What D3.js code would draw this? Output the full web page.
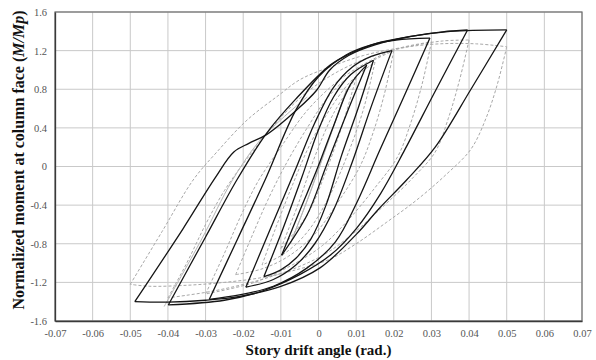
<!DOCTYPE html>
<html>
<head>
<meta charset="utf-8">
<script src="https://cdn.jsdelivr.net/npm/d3@7"></script>
<style>
  body { margin: 0; background: #fff; }
  svg { display: block; font-family: "Liberation Serif", "Times New Roman", serif; }
</style>
</head>
<body>
<figure id="hyst" style="margin:0"></figure>
<script>
// axis ticks
const xTicks = [-0.07, -0.06, -0.05, -0.04, -0.03, -0.02, -0.01, 0, 0.01, 0.02, 0.03, 0.04, 0.05, 0.06, 0.07];
const xTickLabels = ["-0.07", "-0.06", "-0.05", "-0.04", "-0.03", "-0.02", "-0.01", "0", "0.01", "0.02", "0.03", "0.04", "0.05", "0.06", "0.07"];
const yTicks = [-1.6, -1.2, -0.8, -0.4, 0, 0.4, 0.8, 1.2, 1.6];
const yTickLabels = ["-1.6", "-1.2", "-0.8", "-0.4", "0", "0.4", "0.8", "1.2", "1.6"];

// test (solid black) - reloading branches, negative peak -> positive peak
const testUp01 = [[-0.0098, -0.92], [-0.005, -0.46], [-0.0005, -0.04], [0.004, 0.42], [0.0085, 0.85], [0.0128, 1.05]];
const testUp015 = [[-0.0145, -1.14], [-0.0095, -0.65], [-0.0045, -0.12], [0.0, 0.38], [0.004, 0.72], [0.0085, 0.95], [0.0146, 1.10]];
const testUp02 = [[-0.0193, -1.25], [-0.0125, -0.62], [-0.0062, -0.04], [-0.001, 0.45], [0.004, 0.82], [0.009, 1.03], [0.014, 1.14], [0.0195, 1.20]];
const testUp03 = [[-0.029, -1.375], [-0.0215, -0.75], [-0.0142, -0.14], [-0.006, 0.586], [0.0, 0.93], [0.0073, 1.155], [0.014, 1.26], [0.0206, 1.31], [0.0296, 1.33]];
const testUp04 = [[-0.0399, -1.434], [-0.030, -0.73], [-0.0217, -0.14], [-0.0138, 0.344], [-0.006, 0.70], [0.0031, 1.05], [0.008, 1.16], [0.015, 1.27], [0.025, 1.35], [0.033, 1.395], [0.0396, 1.414]];
const testUp05 = [[-0.0488, -1.40], [-0.036, -0.645], [-0.0275, -0.12], [-0.0225, 0.15], [-0.0185, 0.24], [-0.0138, 0.33], [-0.0058, 0.585], [-0.0005, 0.79], [0.003, 1.0], [0.008, 1.15], [0.015, 1.26], [0.025, 1.35], [0.035, 1.40], [0.05, 1.415]];

// test (solid black) - unloading branches, positive peak -> negative peak
const testDown01 = [[0.0128, 1.05], [0.0075, 0.55], [0.002, 0.0], [-0.003, -0.50], [-0.0098, -0.92]];
const testDown015 = [[0.0146, 1.10], [0.0105, 0.60], [0.006, 0.10], [0.002, -0.40], [-0.002, -0.75], [-0.006, -0.95], [-0.010, -1.07], [-0.0145, -1.14]];
const testDown02 = [[0.0195, 1.20], [0.014, 0.62], [0.009, 0.05], [0.004, -0.45], [-0.001, -0.80], [-0.006, -1.02], [-0.012, -1.17], [-0.0193, -1.25]];
const testDown03 = [[0.0296, 1.33], [0.023, 0.75], [0.0163, 0.17], [0.0101, -0.38], [0.0045, -0.78], [-0.003, -1.05], [-0.012, -1.24], [-0.021, -1.33], [-0.029, -1.375]];
const testDown04 = [[0.0396, 1.414], [0.031, 0.78], [0.0229, 0.172], [0.0165, -0.28], [0.0101, -0.64], [0.0031, -0.92], [-0.005, -1.12], [-0.015, -1.29], [-0.025, -1.385], [-0.0399, -1.434]];
const testDown05 = [[0.05, 1.415], [0.0405, 0.80], [0.031, 0.20], [0.0234, -0.14], [0.016, -0.44], [0.0101, -0.70], [0.0004, -1.05], [-0.0102, -1.245], [-0.0209, -1.345], [-0.03, -1.385], [-0.04, -1.405], [-0.0488, -1.40]];

// analysis (gray dashed)
const modelUp01 = [[-0.01, -0.85], [-0.0055, -0.40], [-0.001, 0.10], [0.004, 0.55], [0.01, 0.92]];
const modelUp015 = [[-0.015, -1.02], [-0.0115, -0.65], [-0.007, -0.20], [-0.002, 0.25], [0.004, 0.65], [0.009, 0.90], [0.015, 1.08]];
const modelUp02 = [[-0.022, -1.12], [-0.018, -0.75], [-0.0135, -0.35], [-0.009, 0.0], [-0.003, 0.40], [0.003, 0.74], [0.011, 1.02], [0.02, 1.20]];
const modelUp03 = [[-0.03, -1.32], [-0.025, -0.90], [-0.0205, -0.50], [-0.016, -0.15], [-0.01, 0.20], [-0.003, 0.58], [0.005, 0.88], [0.013, 1.08], [0.021, 1.22], [0.03, 1.29]];
const modelUp04 = [[-0.04, -1.36], [-0.035, -1.0], [-0.03, -0.60], [-0.025, -0.25], [-0.019, 0.08], [-0.012, 0.42], [-0.004, 0.74], [0.005, 0.98], [0.015, 1.15], [0.025, 1.25], [0.033, 1.30], [0.04, 1.31]];
const modelUp05 = [[-0.05, -1.22], [-0.0415, -0.67], [-0.0333, -0.14], [-0.027, 0.15], [-0.019, 0.48], [-0.0105, 0.74], [-0.0049, 0.90], [0.003, 1.03], [0.012, 1.15], [0.022, 1.23], [0.032, 1.27], [0.042, 1.27], [0.05, 1.24]];
const modelDown01 = [[0.01, 0.92], [0.0065, 0.45], [0.002, -0.05], [-0.003, -0.50], [-0.01, -0.85]];
const modelDown015 = [[0.015, 1.08], [0.012, 0.60], [0.008, 0.15], [0.003, -0.30], [-0.003, -0.68], [-0.009, -0.90], [-0.015, -1.02]];
const modelDown02 = [[0.02, 1.20], [0.0175, 0.75], [0.0145, 0.35], [0.011, 0.0], [0.005, -0.38], [-0.001, -0.70], [-0.008, -0.93], [-0.015, -1.06], [-0.022, -1.12]];
const modelDown03 = [[0.03, 1.29], [0.0275, 0.85], [0.0245, 0.45], [0.021, 0.10], [0.015, -0.22], [0.008, -0.55], [0.001, -0.82], [-0.007, -1.02], [-0.017, -1.20], [-0.03, -1.32]];
const modelDown04 = [[0.04, 1.31], [0.0375, 0.90], [0.0345, 0.50], [0.031, 0.15], [0.025, -0.12], [0.017, -0.42], [0.009, -0.70], [0.002, -0.90], [-0.006, -1.05], [-0.016, -1.18], [-0.028, -1.29], [-0.04, -1.36]];
const modelDown05 = [[0.05, 1.24], [0.0475, 0.85], [0.0445, 0.50], [0.0405, 0.18], [0.034, -0.08], [0.026, -0.35], [0.018, -0.58], [0.01, -0.80], [0.003, -0.96], [-0.005, -1.06], [-0.015, -1.15], [-0.025, -1.20], [-0.035, -1.23], [-0.045, -1.24], [-0.05, -1.22]];

// small early cycles (thin light gray)
const earlyUp = [[-0.0075, -0.80], [-0.002, -0.25], [0.003, 0.30], [0.0075, 0.80]];
const earlyDown = [[0.0075, 0.80], [0.002, 0.20], [-0.003, -0.35], [-0.0075, -0.80]];
const earlyUp2 = [[-0.041, -1.45], [-0.031, -0.75], [-0.023, -0.15], [-0.016, 0.25], [-0.009, 0.52], [-0.003, 0.72]];

const testBranches = [testUp01, testDown01, testUp015, testDown015, testUp02, testDown02, testUp03, testDown03, testUp04, testDown04, testUp05, testDown05];
const modelBranches = [modelUp01, modelDown01, modelUp015, modelDown015, modelUp02, modelDown02, modelUp03, modelDown03, modelUp04, modelDown04, modelUp05, modelDown05];
const earlyBranches = [earlyUp, earlyDown, earlyUp2];

const width = 596;
const height = 360;
const margin = { top: 12, right: 14, bottom: 39, left: 55 };

const svg = d3.select("figure#hyst")
  .append("svg")
  .attr("width", width)
  .attr("height", height);

const x = d3.scaleLinear().domain([-0.07, 0.07]).range([margin.left, width - margin.right]);
const y = d3.scaleLinear().domain([-1.6, 1.6]).range([height - margin.bottom, margin.top]);

// grid
svg.append("g")
  .selectAll("line")
  .data(xTicks)
  .enter()
  .append("line")
  .attr("x1", d => x(d)).attr("x2", d => x(d))
  .attr("y1", y(-1.6)).attr("y2", y(1.6))
  .attr("stroke", "#c9c9c9")
  .attr("stroke-width", 1);

svg.append("g")
  .selectAll("line")
  .data(yTicks)
  .enter()
  .append("line")
  .attr("x1", x(-0.07)).attr("x2", x(0.07))
  .attr("y1", d => y(d)).attr("y2", d => y(d))
  .attr("stroke", "#c9c9c9")
  .attr("stroke-width", 1);

// curves
const line = d3.line()
  .x(d => x(d[0]))
  .y(d => y(d[1]))
  .curve(d3.curveCatmullRom.alpha(0.5));

svg.append("g")
  .selectAll("path")
  .data(modelBranches)
  .enter()
  .append("path")
  .attr("d", line)
  .attr("fill", "none")
  .attr("stroke", "#a8a8a8")
  .attr("stroke-width", 1)
  .attr("stroke-dasharray", "3,2");

svg.append("g")
  .selectAll("path")
  .data(earlyBranches)
  .enter()
  .append("path")
  .attr("d", line)
  .attr("fill", "none")
  .attr("stroke", "#b5b5b5")
  .attr("stroke-width", 1);

svg.append("g")
  .selectAll("path")
  .data(testBranches)
  .enter()
  .append("path")
  .attr("d", line)
  .attr("fill", "none")
  .attr("stroke", "#151515")
  .attr("stroke-width", 1.3)
  .attr("stroke-linejoin", "round");

// frame
svg.append("rect")
  .attr("x", x(-0.07)).attr("y", y(1.6))
  .attr("width", x(0.07) - x(-0.07))
  .attr("height", y(-1.6) - y(1.6))
  .attr("fill", "none")
  .attr("stroke", "#6e6e6e")
  .attr("stroke-width", 1.2);

// axes
const xAxis = svg.append("g")
  .attr("transform", "translate(0," + y(-1.6) + ")")
  .call(d3.axisBottom(x).tickValues(xTicks).tickSize(0).tickPadding(9)
    .tickFormat((d, i) => xTickLabels[i]));
xAxis.attr("font-family", "Liberation Serif").attr("font-size", 10.5);
xAxis.select(".domain").attr("stroke", "#3a3a3a").attr("stroke-width", 1.3);
xAxis.selectAll("text").attr("fill", "#555");

const yAxis = svg.append("g")
  .attr("transform", "translate(" + x(-0.07) + ",0)")
  .call(d3.axisLeft(y).tickValues(yTicks).tickSize(0).tickPadding(8)
    .tickFormat((d, i) => yTickLabels[i]));
yAxis.attr("font-family", "Liberation Serif").attr("font-size", 10.5);
yAxis.select(".domain").attr("stroke", "#3a3a3a").attr("stroke-width", 1.3);
yAxis.selectAll("text").attr("fill", "#555");

// titles
svg.append("text")
  .attr("x", x(0))
  .attr("y", 355)
  .attr("text-anchor", "middle")
  .style("font-size", "15px")
  .style("font-weight", "bold")
  .attr("fill", "#111")
  .text("Story drift angle (rad.)");

const yTitle = svg.append("text")
  .attr("transform", "translate(24,160) rotate(-90)")
  .attr("text-anchor", "middle")
  .style("font-size", "16px")
  .style("font-weight", "bold")
  .attr("fill", "#111");
yTitle.append("tspan").text("Normalized moment at column face (");
yTitle.append("tspan").style("font-style", "italic").text("M/Mp");
yTitle.append("tspan").text(")");
</script>
</body>
</html>
